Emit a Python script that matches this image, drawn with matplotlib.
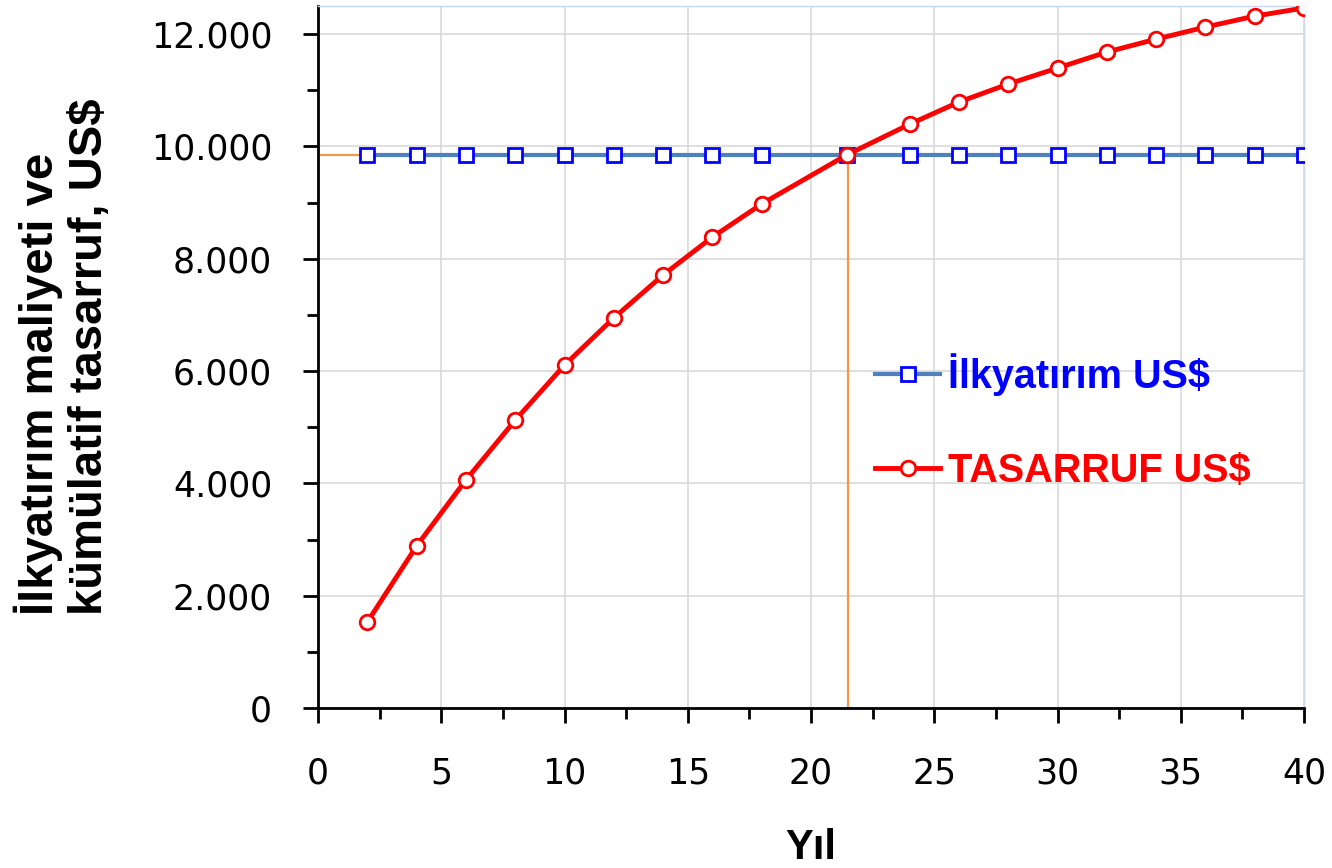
import matplotlib
matplotlib.use("Agg")
import matplotlib.pyplot as plt
from matplotlib.ticker import MultipleLocator, FuncFormatter

# data
years = [2, 4, 6, 8, 10, 12, 14, 16, 18, 21.46, 24, 26, 28, 30, 32, 34, 36, 38, 40]
investment = [9850] * len(years)
savings = [1530, 2885, 4060, 5125, 6105, 6945, 7710, 8385, 8975, 9850,
           10395, 10790, 11110, 11395, 11680, 11910, 12125, 12320, 12465]
breakeven_year = 21.5
breakeven_value = 9850

label_font = ["Liberation Sans Narrow", "Liberation Sans", "DejaVu Sans"]

fig = plt.figure(figsize=(13.32, 8.68), dpi=100)
ax = fig.add_axes([318 / 1332, 160 / 868, 986 / 1332, 702 / 868])

# break-even guide lines
ax.plot([0, breakeven_year], [breakeven_value, breakeven_value], color="#F79646", lw=1.6, zorder=2)
ax.plot([breakeven_year, breakeven_year], [breakeven_value, 0], color="#F79646", lw=1.6, zorder=2)

ax.plot(years, investment, color="#4F81BD", lw=3, marker="s", ms=10,
        mfc="white", mec="#0000FF", mew=2, label="İlkyatırım US$", zorder=3)
ax.plot(years, savings, color="#FF0000", lw=3.5, marker="o", ms=10.5,
        mfc="white", mec="#FF0000", mew=2, label="TASARRUF US$", zorder=4)

ax.set_xlim(0, 40)
ax.set_ylim(0, 12500)
ax.xaxis.set_major_locator(MultipleLocator(5))
ax.xaxis.set_minor_locator(MultipleLocator(2.5))
ax.yaxis.set_major_locator(MultipleLocator(2000))
ax.yaxis.set_minor_locator(MultipleLocator(1000))
ax.yaxis.set_major_formatter(FuncFormatter(lambda v, p: f"{int(v):,}".replace(",", ".")))

ax.grid(True, which="major", color="#D9D9D9", lw=1.2)
ax.set_axisbelow(True)

for s in ["left", "bottom"]:
    ax.spines[s].set_linewidth(2)
    ax.spines[s].set_color("black")
for s in ["top", "right"]:
    ax.spines[s].set_linewidth(1)
    ax.spines[s].set_color("#C6D9F1")

ax.tick_params(axis="x", which="major", direction="out", length=11, width=2, pad=24, labelsize=25)
ax.tick_params(axis="x", which="minor", direction="out", length=8, width=2)
ax.tick_params(axis="y", which="major", direction="out", length=11, width=2, pad=22, labelsize=25)
ax.tick_params(axis="y", which="minor", direction="out", length=8, width=2)

ax.set_xlabel("Yıl", fontsize=30, fontweight="bold", family=label_font, va="center")
ax.xaxis.set_label_coords(0.5, -0.2)
ax.set_ylabel("İlkyatırım maliyeti ve\nkümülatif tasarruf, US$", fontsize=34,
              fontweight="bold", family=label_font, va="center", ha="center",
              multialignment="left", linespacing=1.15)
ax.yaxis.set_label_coords(-0.259, 0.5)

leg = ax.legend(loc="upper left", bbox_to_anchor=(0.565, 0.506), frameon=False,
                prop={"family": label_font, "weight": "bold", "size": 28.5},
                handlelength=1.65, handletextpad=0.2, labelspacing=1.43,
                borderpad=0, borderaxespad=0)
leg.get_texts()[0].set_color("#0000FF")
leg.get_texts()[1].set_color("#FF0000")

fig.savefig("out.png", dpi=100)
